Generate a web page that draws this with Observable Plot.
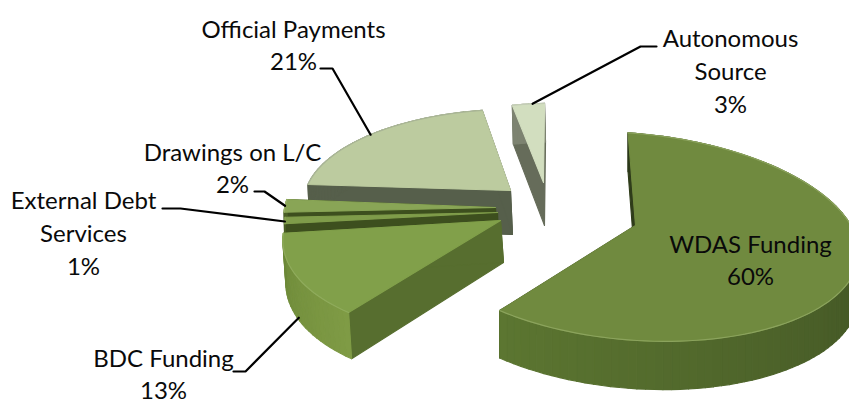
<!DOCTYPE html>
<html>
<head>
<meta charset="utf-8">
<style>html,body{margin:0;padding:0;background:#fff}svg{display:block}</style>
<script src="https://cdn.jsdelivr.net/npm/d3@7"></script>
<script src="https://cdn.jsdelivr.net/npm/@observablehq/plot@0.6"></script>
</head>
<body>
<div id="chart"></div>
<script>
// ---- chart values, clockwise from the top ----
const categories = ["WDAS Funding","BDC Funding","External Debt\nServices","Drawings on L/C","Official Payments","Autonomous\nSource"];
const shares = [60,13,1,2,21,3];

// ---- 3D layout of each exploded slice (same order as categories) ----
const apexX = [635,500,497,495,510,543];
const apexY = [225,220,212,207,190,182];
const radiusX = [222,211,210,209,203,190];
const radiusY = [102,103,100,100,90,88];
const tilt = [17,6,7,7,5,0];
const lean = [3,30,10,10,16,10];
const dropX = [0,3,1,1,2,1];
const depth = [43,42,44,44,44,43];
const topFill = ["#708a3f","#81a04a","#7f9c4a","#89a556","#bccb9f","#d2debf"];
const cutFill = ["#2f3c1a","#576e2f","#3d4f1e","#3d4f1e","#565f4b","#666c5a"];
const outerFar = ["#2c391a","#7f9b45","#4a5f26","#4a5f26","#565f4b","#7d8371"];
const outerNear = ["#5c7631","#6c8838","#4a5f26","#4a5f26","#565f4b","#7d8371"];
const rimFill = ["#8ba35d","#8fab5c","#8aa656","#98b068","#a9b596","#c4cdb6"];
const perspective = 0.111;
const startAngle = -3;
const drawOrder = [4,3,2,1,0,5];

// ---- labels and leaders ----
const labelText = ["WDAS Funding\n60%","BDC Funding\n13%","External Debt\nServices\n1%","Drawings on L/C\n2%","Official Payments\n21%","Autonomous\nSource\n3%"];
const labelX = [750,163,83,232,293,730];
const labelY = [258,372,231,166,43,69];
const leaderElbowX = [null,[233,245],[162,180],[254,264],[320,332],[656,640]];
const leaderElbowY = [null,[371,371],[208,208],[191,191],[68,68],[46,46]];
const leaderAngle = [null,237,261,267,308,353];
const leaderDrop = [0,40,0,0,0,0];

// ---- geometry derived from the values ----
const total = d3.sum(shares);
let cum = startAngle;
const spans = shares.map(v => { const a = [cum, cum + v / total * 360]; cum = a[1]; return a; });
const rad = d => d * Math.PI / 180;
function point(i, deg, drop = 0) {
  const sx = Math.sin(rad(deg)), cz = Math.cos(rad(deg));
  const s = 1 / (1 + perspective * cz);
  return {
    x: apexX[i] + radiusX[i] * sx * s + lean[i] * cz + (drop ? dropX[i] : 0),
    y: apexY[i] - radiusY[i] * cz * s + tilt[i] * sx + drop * s
  };
}
function apex(i, drop = 0) {
  return {x: apexX[i] + (drop ? dropX[i] : 0), y: apexY[i] + drop};
}
const faces = [];
let id = 0;
const push = (pts, fill) => { id++; pts.forEach(p => faces.push({...p, id, fill})); };
for (const i of drawOrder) {
  const [a0, a1] = spans[i];
  const steps = Math.max(2, Math.ceil((a1 - a0) / 2));
  const angles = d3.range(steps + 1).map(k => a0 + (a1 - a0) * k / steps);
  const d = depth[i];
  // cut faces
  push([apex(i), point(i, a0), point(i, a0, d), apex(i, d)], cutFill[i]);
  push([apex(i), point(i, a1), point(i, a1, d), apex(i, d)], cutFill[i]);
  // outer wall, shaded along the angle
  const shade = d3.scaleLinear().domain([a1, a0]).range([outerNear[i], outerFar[i]]);
  for (let k = 0; k < steps; k++) {
    const p = angles[k], q = angles[k + 1];
    push([point(i, p), point(i, q), point(i, q, d), point(i, p, d)], shade((p + q) / 2));
  }
  // top
  push([apex(i), ...angles.map(a => point(i, a))], topFill[i]);
  // light rim along the outer edge
  id++;
  angles.forEach(a => faces.push({...point(i, a), id, fill: rimFill[i], rim: true}));
}
const solid = faces.filter(d => !d.rim);
const rim = faces.filter(d => d.rim);

const leaders = [];
categories.forEach((c, i) => {
  if (leaderAngle[i] == null) return;
  const end = point(i, leaderAngle[i], leaderDrop[i]);
  leaderElbowX[i].forEach((x, k) => leaders.push({x, y: leaderElbowY[i][k], i}));
  leaders.push({x: end.x, y: end.y, i});
});

const labels = labelText.map((text, i) => ({text, x: labelX[i], y: labelY[i]}));

const chart = Plot.plot({
  width: 849, height: 403, margin: 0,
  x: {domain: [0, 849], range: [0, 849], axis: null},
  y: {domain: [0, 403], range: [0, 403], axis: null},
  style: {background: "#fff"},
  marks: [
    Plot.line(solid, {x: "x", y: "y", z: "id", fill: "fill", stroke: "fill", strokeWidth: 1.1, curve: "linear-closed"}),
    Plot.line(rim, {x: "x", y: "y", z: "id", stroke: "fill", strokeWidth: 1.2, fill: "none"}),
    Plot.line(leaders, {x: "x", y: "y", z: "i", stroke: "#000", strokeWidth: 2.2, strokeLinejoin: "miter", fill: "none"}),
    Plot.text(labels, {x: "x", y: "y", text: "text", fontSize: 24, lineHeight: 1.36, fill: "#0a0a0a", fontFamily: "Lato, 'Open Sans', sans-serif", textAnchor: "middle", lineAnchor: "middle"})
  ]
});
document.getElementById("chart").appendChild(chart);
</script>
</body>
</html>
